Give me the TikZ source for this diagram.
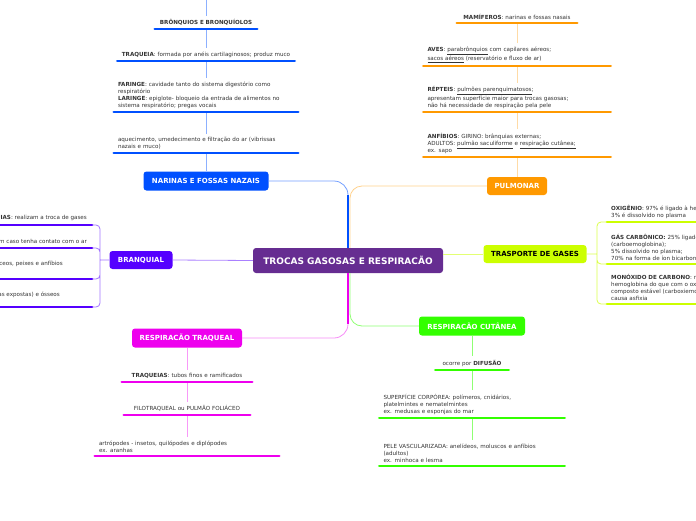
\documentclass[tikz,border=0pt]{standalone}
\usepackage{fontspec}
\setmainfont{DejaVu Sans}
\usetikzlibrary{calc}
\definecolor{cCen}{HTML}{662D91}
\definecolor{cNar}{HTML}{0050FF}
\definecolor{cPul}{HTML}{FF9900}
\definecolor{cTra}{HTML}{CCFF00}
\definecolor{cCut}{HTML}{33FF00}
\definecolor{cTrq}{HTML}{EE00EE}
\definecolor{cBra}{HTML}{5500FF}
\newcommand{\itemfont}{\fontsize{5.6}{7}\selectfont}
\newcommand{\ubar}[2]{\draw[#2,line width=2.8pt,line cap=round] (#1.south west) -- (#1.south east);}

\begin{document}
\begin{tikzpicture}[x=1pt,y=-1pt,
  topic/.style={rounded corners=3pt,text=white,inner sep=0pt,font=\fontsize{7}{8}\selectfont\bfseries},
  item/.style={font=\itemfont,text=black!80,inner xsep=4pt,inner ysep=3.5pt,anchor=south,align=left},
  gilltext/.style={font=\itemfont,text=black!80,anchor=base east,inner sep=0pt},
  link/.style={line width=0.8pt},
  trunk/.style={line width=2pt}]
\useasboundingbox (0,0) rectangle (696,520);
\clip (0,0) rectangle (696,520);

\node[topic,fill=cCen,minimum width=190pt,minimum height=25pt,font=\fontsize{9}{10}\selectfont\bfseries] (root) at (348,260.5) {TROCAS GASOSAS E RESPIRACÃO};
\node[topic,fill=cNar,minimum width=125pt,minimum height=19pt] (nar) at (206,181) {NARINAS E FOSSAS NAZAIS};
\node[topic,fill=cPul,minimum width=60pt,minimum height=18pt] (pul) at (517,186) {PULMONAR};
\node[topic,fill=cTra,text=black,minimum width=103pt,minimum height=18pt] (tra) at (535,254) {TRASPORTE DE GASES};
\node[topic,fill=cCut,minimum width=106pt,minimum height=19pt] (cut) at (472,326) {RESPIRACÃO CUTÂNEA};
\node[topic,fill=cTrq,minimum width=110pt,minimum height=19pt] (trq) at (187,338) {RESPIRACÃO TRAQUEAL};
\node[topic,fill=cBra,minimum width=63pt,minimum height=18pt] (bra) at (141,260) {BRANQUIAL};

% narinas
\node[item,text width=176pt] (nf1) at (206,153) {aquecimento, umedecimento e filtração do ar (vibrissas\\nazais e muco)};
\node[item,text width=176pt] (nf2) at (206,112) {\textbf{FARINGE}: cavidade tanto do sistema digestório como\\respiratório\\\textbf{LARINGE}: epiglote- bloqueio da entrada de alimentos no\\sistema respiratório; pregas vocais};
\node[item,text width=169pt,align=center] (nf3) at (206,61) {\textbf{TRAQUEIA}: formada por anéis cartilaginosos; produz muco};
\node[item,text width=94pt,align=center] (nf4) at (206,29) {\textbf{BRÔNQUIOS E BRONQUÍOLOS}};
\coordinate (nftop) at (206,-2);

% pulmonar
\node[item,text width=179pt] (pu1) at (517,157) {\textbf{ANFÍBIOS}: GIRINO: brânquias externas;\\ADULTOS: \underline{pulmão saculiforme} e \underline{respiração cutânea;}\\ex. sapo};
\node[item,text width=179pt] (pu2) at (517,112) {\textbf{RÉPTEIS}: \underline{pulmões parenquimatosos};\\apresentam superfície maior para trocas gasosas;\\não há necessidade de respiração pela pele};
\node[item,text width=179pt] (pu3) at (517,66) {\textbf{AVES}: \underline{parabrônquios} com capilares aéreos;\\\underline{sacos aéreos} (reservatório e fluxo de ar)};
\node[item,text width=112pt,align=center] (pu4) at (517,23) {\textbf{MAMÍFEROS}: narinas e fossas nasais};

% trasporte
\coordinate (jr) at (597,254);
\node[item,anchor=south west,text width=220pt] (gs1) at (607,222) {\textbf{OXIGÊNIO}: 97\% é ligado à hemoglobina;\\3\% é dissolvido no plasma};
\node[item,anchor=south west,text width=220pt] (gs2) at (607,264) {\textbf{GÁS CARBÔNICO:} 25\% ligado à hemoglobina\\(carboemoglobina);\\5\% dissolvido no plasma;\\70\% na forma de íon bicarbonato};
\node[item,anchor=south west,text width=220pt] (gs3) at (607,304) {\textbf{MONÓXIDO DE CARBONO}: maior afinidade com a\\hemoglobina do que com o oxigênio, formando um\\composto estável (carboxiemoglobina);\\causa asfixia};

% cutanea
\node[item,text width=65pt,align=center] (cu1) at (472,370) {ocorre por \textbf{DIFUSÃO}};
\node[item,text width=177pt] (cu2) at (472,418) {SUPERFÍCIE CORPÓREA: polímeros, cnidários,\\platelmintes e nematelmintes\\ex. medusas e esponjas do mar};
\node[item,text width=177pt] (cu3) at (472,466) {PELE VASCULARIZADA: anelídeos, moluscos e anfíbios\\(adultos)\\ex. minhoca e lesma};

% traqueal
\node[item,text width=122pt,align=center] (tr1) at (187,382) {\textbf{TRAQUEIAS}: tubos finos e ramificados};
\node[item,text width=118pt,align=center] (tr2) at (187,415) {FILOTRAQUEAL ou PULMÃO FOLIÁCEO};
\node[item,text width=176pt] (tr3) at (187,456) {artrópodes - insetos, quilópodes e diplópodes\\ex. aranhas};

% branquial
\coordinate (jl) at (100,260);
\coordinate (b1) at (92,225);
\coordinate (b2) at (92,248);
\coordinate (b3) at (92,279);
\coordinate (b4) at (92,307);
\node[gilltext] (br1) at (87,219.5) {\textbf{BRÂNQUIAS}: realizam a troca de gases};
\node[gilltext] (br2) at (87,243) {as brânquias ressecam caso tenha contato com o ar};
\node[gilltext] (br3) at (63,265.5) {ex. moluscos, crustáceos, peixes e anfíbios};
\node[gilltext] (br4) at (60,296) {peixes cartilaginosos (brânquias expostas) e ósseos};

% main links
\draw[link,cPul!45,rounded corners=12pt] ($(root.north)+(2,0)$) |- (pul.west);
\draw[link,cNar!55,rounded corners=14pt] (root.north) |- (nar.east);
\draw[trunk,cNar] (root.north) -- ($(root.north |- nar.east)+(0,14)$);
\draw[link,cCut!55,rounded corners=12pt] ($(root.south)+(2,0)$) |- (cut.west);
\draw[link,cTrq!45,rounded corners=14pt] (root.south) |- (trq.east);
\draw[trunk,cTrq] (root.south) -- ($(root.south |- trq.east)+(0,-14)$);
\draw[link,cTra!55] (root.east |- tra.west) -- (tra.west);
\draw[link,cBra!50] (root.west) -- (bra.east);

% branch links
\draw[link,cNar!45] (nar.north) -- (nf1.south) (nf1.north) -- (nf2.south)
  (nf2.north) -- (nf3.south) (nf3.north) -- (nf4.south) (nf4.north) -- (nftop);
\draw[link,cPul!35] (pul.north) -- (pu1.south) (pu1.north) -- (pu2.south)
  (pu2.north) -- (pu3.south) (pu3.north) -- (pu4.south);
\draw[link,cTrq!40] (trq.south) -- (tr1.north) (tr1.south) -- (tr2.north) (tr2.south) -- (tr3.north);
\draw[link,cCut!55] (cut.south) -- (cu1.north) (cu1.south) -- (cu2.north) (cu2.south) -- (cu3.north);
\draw[link,cTra!70,rounded corners=4pt] (tra.east) -- (jr) (jr) |- (gs1.south west)
  (jr) |- (gs2.south west) (jr) |- (gs3.south west);
\draw[link,cBra!55,rounded corners=4pt] (bra.west) -- (jl) (jl) |- (b1) (jl) |- (b2) (jl) |- (b3) (jl) |- (b4);

% bars
\ubar{nf1}{cNar}\ubar{nf2}{cNar}\ubar{nf3}{cNar}\ubar{nf4}{cNar}
\ubar{pu1}{cPul}\ubar{pu2}{cPul}\ubar{pu3}{cPul}\ubar{pu4}{cPul}
\ubar{gs1}{cTra}\ubar{gs2}{cTra}\ubar{gs3}{cTra}
\ubar{cu1}{cCut}\ubar{cu2}{cCut}\ubar{cu3}{cCut}
\ubar{tr1}{cTrq}\ubar{tr2}{cTrq}\ubar{tr3}{cTrq}
\foreach \b in {b1,b2,b3,b4}
  {\draw[cBra,line width=2.8pt,line cap=round] (\b) -- ++(-100,0);}
\end{tikzpicture}
\end{document}
